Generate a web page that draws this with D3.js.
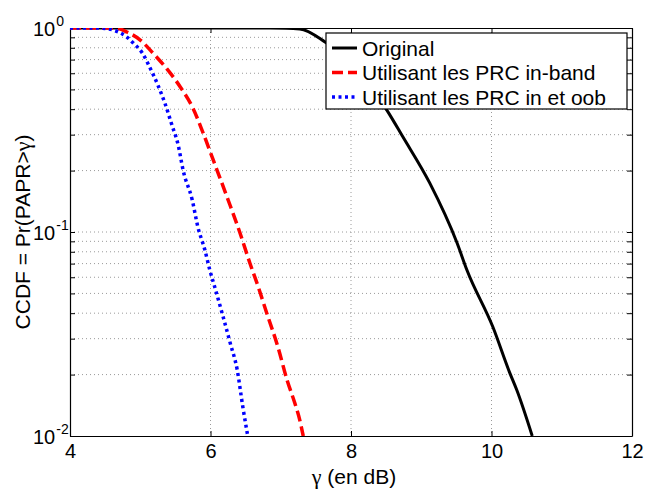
<!DOCTYPE html>
<html>
<head>
<meta charset="utf-8">
<script src="https://cdn.jsdelivr.net/npm/d3@7"></script>
<style>
  body { margin: 0; background: #fff; }
  svg { font-family: "Liberation Sans", Arial, Helvetica, sans-serif; }
  .grid line { stroke: #9a9a9a; stroke-width: 1; stroke-dasharray: 1,3; }
  .greek { font-family: "Liberation Serif", "Times New Roman", serif; }
</style>
</head>
<body>
<svg id="chart"></svg>
<script>
// x ticks and log decades
const xTicks = [4, 6, 8, 10, 12];
const yDecades = [0, -1, -2];

// legend labels
const seriesNames = ['Original', 'Utilisant les PRC in-band', 'Utilisant les PRC in et oob'];

// curves (gamma in dB, CCDF)
const gammaOriginal = [4, 5, 6, 6.5, 6.85, 7.27, 7.63, 7.99, 8.27, 8.51, 8.74, 9.12, 9.51, 9.65, 10.02, 10.26, 10.36, 10.58];
const ccdfOriginal  = [1, 1, 1, 1, 0.999, 0.989, 0.854, 0.681, 0.52, 0.396, 0.292, 0.174, 0.0883, 0.0651, 0.0342, 0.0204, 0.0168, 0.01];

const gammaInBand = [4, 4.55, 4.7, 4.81, 5.0, 5.18, 5.38, 5.57, 5.75, 5.89, 6.04, 6.24, 6.42, 6.56, 6.68, 6.80, 6.96, 7.09, 7.2, 7.27, 7.32];
const ccdfInBand  = [1, 1, 0.99, 0.956, 0.873, 0.754, 0.63, 0.514, 0.405, 0.309, 0.225, 0.147, 0.0989, 0.0705, 0.0538, 0.0401, 0.0273, 0.0188, 0.0145, 0.012, 0.01];

const gammaInOob = [4, 4.4, 4.5, 4.61, 4.81, 4.9, 5.03, 5.14, 5.25, 5.35, 5.45, 5.54, 5.61, 5.74, 5.82, 5.92, 5.99, 6.06, 6.28, 6.38, 6.46, 6.53];
const ccdfInOob  = [1, 1, 0.995, 0.978, 0.903, 0.844, 0.754, 0.637, 0.526, 0.429, 0.335, 0.267, 0.201, 0.1435, 0.1059, 0.0816, 0.0651, 0.0538, 0.0286, 0.0211, 0.0139, 0.01];

const W = 646, H = 493;
const margin = {top: 28, right: 14, bottom: 57, left: 70};
const width = W - margin.left - margin.right;   // 562
const height = H - margin.top - margin.bottom;  // 408

const svg = d3.select('#chart').attr('width', W).attr('height', H);
svg.append('rect').attr('width', W).attr('height', H).attr('fill', '#fff');

const g = svg.append('g').attr('transform', `translate(${margin.left},${margin.top})`);

const x = d3.scaleLinear().domain([4, 12]).range([0, width]);
const y = d3.scaleLog().domain([0.01, 1]).range([height, 0]);

// all log ticks 0.01 .. 1
const yTicks = y.ticks();

// grid
g.append('g').attr('class', 'grid')
  .selectAll('line').data(yTicks.filter(v => v > 0.01 && v < 1))
  .join('line')
  .attr('x1', 0).attr('x2', width)
  .attr('y1', d => y(d)).attr('y2', d => y(d));

g.append('g').attr('class', 'grid')
  .selectAll('line').data(xTicks.slice(1, -1))
  .join('line')
  .attr('x1', d => x(d)).attr('x2', d => x(d))
  .attr('y1', 0).attr('y2', height);

// axes, ticks inside like matlab
const tick = 5;
const bottom = g.append('g').attr('transform', `translate(0,${height})`)
  .call(d3.axisBottom(x).tickValues(xTicks).tickSizeInner(-tick).tickSizeOuter(0).tickPadding(8));
bottom.selectAll('text').attr('font-size', 20).attr('fill', '#000');

g.append('g')
  .call(d3.axisTop(x).tickValues(xTicks).tickSizeInner(-tick).tickSizeOuter(0).tickFormat(''));

g.append('g')
  .call(d3.axisLeft(y).tickValues(yTicks).tickSizeInner(-tick).tickSizeOuter(0).tickFormat(''));

g.append('g').attr('transform', `translate(${width},0)`)
  .call(d3.axisRight(y).tickValues(yTicks).tickSizeInner(-tick).tickSizeOuter(0).tickFormat(''));

g.selectAll('.domain').attr('stroke', '#000').attr('stroke-width', 1.2);
g.selectAll('.tick line').attr('stroke', '#000');

// y labels as 10^k
const yLab = g.append('g');
yDecades.forEach(k => {
  const t = yLab.append('text')
    .attr('x', -37).attr('y', y(Math.pow(10, k)) + 8)
    .attr('text-anchor', 'start').attr('font-size', 20);
  t.append('tspan').text('10');
  t.append('tspan').attr('font-size', 14).attr('dx', 1).attr('dy', -10).text(k);
});

// curves
const clip = svg.append('clipPath').attr('id', 'clip');
clip.append('rect').attr('width', width).attr('height', height);

const line = d3.line().x(d => x(d[0])).y(d => y(d[1])).curve(d3.curveMonotoneX);

const series = [
  {name: seriesNames[0], gx: gammaOriginal, gy: ccdfOriginal, color: '#000', w: 3, dash: null},
  {name: seriesNames[1], gx: gammaInBand, gy: ccdfInBand, color: '#ff0000', w: 3.5, dash: '11,5'},
  {name: seriesNames[2], gx: gammaInOob, gy: ccdfInOob, color: '#0000ff', w: 3.5, dash: '3,3.5'}
];

const plot = g.append('g').attr('clip-path', 'url(#clip)');
series.forEach(s => {
  plot.append('path')
    .datum(d3.zip(s.gx, s.gy))
    .attr('d', line)
    .attr('fill', 'none')
    .attr('stroke', s.color)
    .attr('stroke-width', s.w)
    .attr('stroke-dasharray', s.dash);
});

// axis titles
const xTitle = svg.append('text')
  .attr('x', margin.left + width / 2 + 3).attr('y', 484)
  .attr('text-anchor', 'middle').attr('font-size', 21);
xTitle.append('tspan').attr('class', 'greek').attr('font-size', 22).text('γ');
xTitle.append('tspan').text(' (en dB)');

const yTitle = svg.append('text')
  .attr('transform', `translate(30,${margin.top + height / 2}) rotate(-90)`)
  .attr('text-anchor', 'middle').attr('font-size', 21);
yTitle.append('tspan').text('CCDF = Pr(PAPR>');
yTitle.append('tspan').attr('class', 'greek').attr('font-size', 22).text('γ');
yTitle.append('tspan').text(')');

// legend
const legend = svg.append('g').attr('transform', 'translate(326,33)');
legend.append('rect')
  .attr('width', 301).attr('height', 76)
  .attr('fill', '#fff').attr('stroke', '#000').attr('stroke-width', 1.2);

series.forEach((s, i) => {
  const cy = 15 + i * 24.5;
  legend.append('line')
    .attr('x1', 6).attr('x2', 31).attr('y1', cy).attr('y2', cy)
    .attr('stroke', s.color).attr('stroke-width', s.w)
    .attr('stroke-dasharray', s.dash);
  legend.append('text')
    .attr('x', 36).attr('y', cy + 7.5)
    .attr('font-size', 21)
    .text(s.name);
});
</script>
</body>
</html>
